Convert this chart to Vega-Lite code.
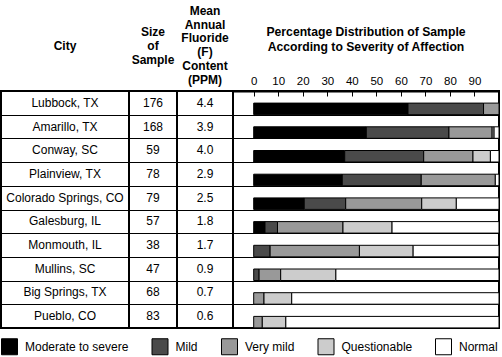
{
  "$schema": "https://vega.github.io/schema/vega-lite/v6.json",
  "padding": 0,
  "background": "white",
  "spacing": 0,
  "bounds": "flush",
  "columns": 4,
  "config": {
    "font": "Liberation Sans",
    "view": {"stroke": "black", "strokeWidth": 2},
    "text": {"color": "black"}
  },
  "datasets": {
    "table": [
      {"city": "Lubbock, TX", "n": "176", "f": "4.4"},
      {"city": "Amarillo, TX", "n": "168", "f": "3.9"},
      {"city": "Conway, SC", "n": "59", "f": "4.0"},
      {"city": "Plainview, TX", "n": "78", "f": "2.9"},
      {"city": "Colorado Springs, CO", "n": "79", "f": "2.5"},
      {"city": "Galesburg, IL", "n": "57", "f": "1.8"},
      {"city": "Monmouth, IL", "n": "38", "f": "1.7"},
      {"city": "Mullins, SC", "n": "47", "f": "0.9"},
      {"city": "Big Springs, TX", "n": "68", "f": "0.7"},
      {"city": "Pueblo, CO", "n": "83", "f": "0.6"}
    ],
    "dist": [
      {"city": "Lubbock, TX", "sev": "Moderate to severe", "pct": 62.9},
      {"city": "Lubbock, TX", "sev": "Mild", "pct": 30.8},
      {"city": "Lubbock, TX", "sev": "Very mild", "pct": 6.3},
      {"city": "Amarillo, TX", "sev": "Moderate to severe", "pct": 45.9},
      {"city": "Amarillo, TX", "sev": "Mild", "pct": 33.7},
      {"city": "Amarillo, TX", "sev": "Very mild", "pct": 17.6},
      {"city": "Amarillo, TX", "sev": "Questionable", "pct": 0.8},
      {"city": "Amarillo, TX", "sev": "Normal", "pct": 2.0},
      {"city": "Conway, SC", "sev": "Moderate to severe", "pct": 37.1},
      {"city": "Conway, SC", "sev": "Mild", "pct": 32.2},
      {"city": "Conway, SC", "sev": "Very mild", "pct": 20.1},
      {"city": "Conway, SC", "sev": "Questionable", "pct": 7.1},
      {"city": "Conway, SC", "sev": "Normal", "pct": 3.5},
      {"city": "Plainview, TX", "sev": "Moderate to severe", "pct": 36.1},
      {"city": "Plainview, TX", "sev": "Mild", "pct": 32.2},
      {"city": "Plainview, TX", "sev": "Very mild", "pct": 30.2},
      {"city": "Plainview, TX", "sev": "Normal", "pct": 1.5},
      {"city": "Colorado Springs, CO", "sev": "Moderate to severe", "pct": 20.6},
      {"city": "Colorado Springs, CO", "sev": "Mild", "pct": 16.9},
      {"city": "Colorado Springs, CO", "sev": "Very mild", "pct": 31.0},
      {"city": "Colorado Springs, CO", "sev": "Questionable", "pct": 14.1},
      {"city": "Colorado Springs, CO", "sev": "Normal", "pct": 17.4},
      {"city": "Galesburg, IL", "sev": "Moderate to severe", "pct": 4.6},
      {"city": "Galesburg, IL", "sev": "Mild", "pct": 5.1},
      {"city": "Galesburg, IL", "sev": "Very mild", "pct": 26.7},
      {"city": "Galesburg, IL", "sev": "Questionable", "pct": 20.0},
      {"city": "Galesburg, IL", "sev": "Normal", "pct": 43.6},
      {"city": "Monmouth, IL", "sev": "Mild", "pct": 6.7},
      {"city": "Monmouth, IL", "sev": "Very mild", "pct": 36.4},
      {"city": "Monmouth, IL", "sev": "Questionable", "pct": 21.9},
      {"city": "Monmouth, IL", "sev": "Normal", "pct": 35.0},
      {"city": "Mullins, SC", "sev": "Mild", "pct": 2.2},
      {"city": "Mullins, SC", "sev": "Very mild", "pct": 8.8},
      {"city": "Mullins, SC", "sev": "Questionable", "pct": 22.5},
      {"city": "Mullins, SC", "sev": "Normal", "pct": 66.5},
      {"city": "Big Springs, TX", "sev": "Very mild", "pct": 4.2},
      {"city": "Big Springs, TX", "sev": "Questionable", "pct": 11.3},
      {"city": "Big Springs, TX", "sev": "Normal", "pct": 84.5},
      {"city": "Pueblo, CO", "sev": "Very mild", "pct": 3.5},
      {"city": "Pueblo, CO", "sev": "Questionable", "pct": 9.6},
      {"city": "Pueblo, CO", "sev": "Normal", "pct": 86.9}
    ]
  },
  "concat": [
    {
      "width": 128, "height": 91,
      "data": {"values": [{"h": "City"}]},
      "mark": {"type": "text", "fontWeight": "bold", "fontSize": 12, "lineBreak": "\n", "lineHeight": 14},
      "encoding": {"text": {"field": "h"}}
    },
    {
      "width": 48, "height": 91,
      "data": {"values": [{"h": "Size\nof\nSample"}]},
      "mark": {"type": "text", "fontWeight": "bold", "fontSize": 12, "lineBreak": "\n", "lineHeight": 14, "dy": -14},
      "encoding": {"text": {"field": "h"}}
    },
    {
      "width": 56, "height": 91,
      "data": {"values": [{"h": "Mean\nAnnual\nFluoride\n(F)\nContent\n(PPM)"}]},
      "mark": {"type": "text", "fontWeight": "bold", "fontSize": 12, "lineBreak": "\n", "lineHeight": 13.7, "dy": -34.5},
      "encoding": {"text": {"field": "h"}}
    },
    {
      "width": 266, "height": 91,
      "data": {"values": [{"h": "Percentage Distribution of Sample\nAccording to Severity of Affection"}]},
      "mark": {"type": "text", "fontWeight": "bold", "fontSize": 12.2, "lineBreak": "\n", "lineHeight": 14.5, "dy": -13.5},
      "encoding": {"text": {"field": "h"}}
    },
    {
      "width": 128, "height": 237,
      "data": {"name": "table"},
      "mark": {"type": "text", "fontSize": 12},
      "encoding": {
        "y": {"field": "city", "type": "nominal", "sort": null, "scale": {"paddingInner": 0, "paddingOuter": 0},
              "axis": {"title": null, "labels": false, "ticks": false, "domain": false, "grid": true, "gridColor": "black", "gridOpacity": 1, "gridWidth": 1, "tickBand": "extent"}},
        "text": {"field": "city"}
      }
    },
    {
      "width": 48, "height": 237,
      "data": {"name": "table"},
      "mark": {"type": "text", "fontSize": 12},
      "encoding": {
        "y": {"field": "city", "type": "nominal", "sort": null, "scale": {"paddingInner": 0, "paddingOuter": 0},
              "axis": {"title": null, "labels": false, "ticks": false, "domain": false, "grid": true, "gridColor": "black", "gridOpacity": 1, "gridWidth": 1, "tickBand": "extent"}},
        "text": {"field": "n"}
      }
    },
    {
      "width": 56, "height": 237,
      "data": {"name": "table"},
      "mark": {"type": "text", "fontSize": 12},
      "encoding": {
        "y": {"field": "city", "type": "nominal", "sort": null, "scale": {"paddingInner": 0, "paddingOuter": 0},
              "axis": {"title": null, "labels": false, "ticks": false, "domain": false, "grid": true, "gridColor": "black", "gridOpacity": 1, "gridWidth": 1, "tickBand": "extent"}},
        "text": {"field": "f"}
      }
    },
    {
      "width": 266, "height": 237,
      "data": {"name": "dist"},
      "transform": [
        {"calculate": "indexof(['Moderate to severe','Mild','Very mild','Questionable','Normal'], datum.sev)", "as": "k"}
      ],
      "mark": {"type": "bar", "height": 11.5, "yOffset": 6, "stroke": "black", "strokeWidth": 1},
      "encoding": {
        "y": {"field": "city", "type": "nominal",
              "sort": ["Lubbock, TX", "Amarillo, TX", "Conway, SC", "Plainview, TX", "Colorado Springs, CO", "Galesburg, IL", "Monmouth, IL", "Mullins, SC", "Big Springs, TX", "Pueblo, CO"],
              "scale": {"paddingInner": 0, "paddingOuter": 0},
              "axis": {"title": null, "labels": false, "ticks": false, "domain": false, "grid": true, "gridColor": "black", "gridOpacity": 1, "gridWidth": 1, "tickBand": "extent"}},
        "x": {"field": "pct", "type": "quantitative", "stack": "zero",
              "scale": {"domain": [-8.44, 100], "nice": false, "zero": false},
              "axis": {"orient": "top", "title": null, "values": [0, 10, 20, 30, 40, 50, 60, 70, 80, 90], "grid": false,
                       "tickSize": -5, "tickColor": "black", "tickWidth": 1, "domainColor": "black", "domainWidth": 2,
                       "labelPadding": 10, "labelFontSize": 11.5, "labelColor": "black", "labelFlush": false}},
        "color": {"field": "sev", "type": "nominal",
                  "scale": {"domain": ["Moderate to severe", "Mild", "Very mild", "Questionable", "Normal"],
                            "range": ["#000000", "#4a4a4a", "#999999", "#cccccc", "#ffffff"]},
                  "legend": {"orient": "bottom", "direction": "horizontal", "title": null, "symbolType": "square",
                             "symbolSize": 256, "symbolStrokeColor": "black", "symbolStrokeWidth": 1, "symbolOpacity": 1,
                             "labelFontSize": 12, "labelOffset": 7, "columnPadding": 20.5, "offset": 8, "labelColor": "black"}},
        "order": {"field": "k", "type": "quantitative"}
      }
    }
  ]
}
